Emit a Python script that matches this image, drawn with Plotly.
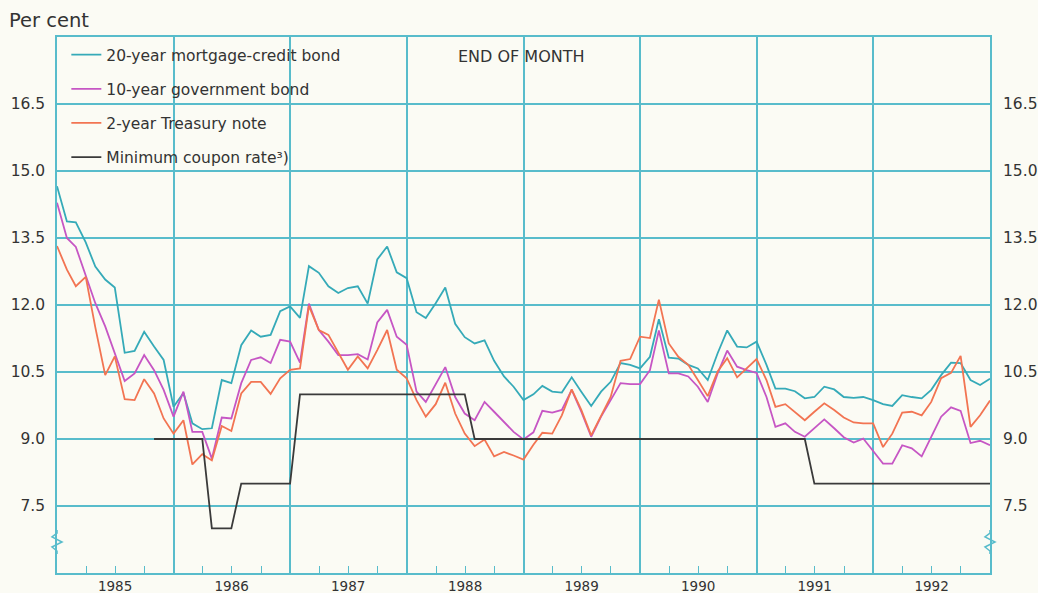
import plotly.graph_objects as go
import pandas as pd

# End-of-month observation dates, Dec 1984 .. Dec 1992
dates = pd.date_range("1984-12-31", periods=97, freq="ME").strftime("%Y-%m-%d").tolist()

mortgage_20y = [
    14.66, 13.87, 13.85, 13.40, 12.86, 12.57, 12.39, 10.93, 10.97, 11.40, 11.07, 10.77,
    9.72, 10.03, 9.35, 9.22, 9.24, 10.32, 10.25, 11.10, 11.43, 11.29, 11.33, 11.86,
    11.97, 11.71, 12.87, 12.72, 12.42, 12.27, 12.38, 12.42, 12.03, 13.02, 13.31, 12.73,
    12.60, 11.84, 11.71, 12.04, 12.39, 11.58, 11.28, 11.14, 11.21, 10.75, 10.40, 10.17,
    9.87, 10.00, 10.19, 10.06, 10.04, 10.38, 10.06, 9.74, 10.06, 10.28, 10.70, 10.66,
    10.58, 10.84, 11.68, 10.82, 10.80, 10.66, 10.58, 10.32, 10.92, 11.43, 11.07, 11.05,
    11.18, 10.66, 10.13, 10.13, 10.07, 9.91, 9.94, 10.17, 10.11, 9.94, 9.92, 9.94,
    9.87, 9.78, 9.74, 9.98, 9.94, 9.91, 10.10, 10.43, 10.71, 10.70, 10.32, 10.21,
    10.35,
]

govt_10y = [
    14.29, 13.50, 13.30, 12.64, 12.04, 11.52, 10.92, 10.30, 10.47, 10.88, 10.54, 10.10,
    9.50, 10.06, 9.16, 9.16, 8.56, 9.48, 9.46, 10.25, 10.77, 10.83, 10.70, 11.22,
    11.18, 10.71, 12.03, 11.44, 11.18, 10.88, 10.88, 10.90, 10.78, 11.61, 11.89, 11.29,
    11.11, 10.06, 9.83, 10.21, 10.61, 9.94, 9.57, 9.42, 9.83, 9.61, 9.38, 9.16,
    8.99, 9.15, 9.63, 9.59, 9.65, 10.10, 9.61, 9.05, 9.50, 9.87, 10.25, 10.23,
    10.23, 10.54, 11.43, 10.47, 10.47, 10.40, 10.17, 9.83, 10.47, 10.98, 10.62, 10.54,
    10.48, 9.94, 9.27, 9.35, 9.16, 9.05, 9.24, 9.44, 9.24, 9.04, 8.92, 9.01,
    8.73, 8.45, 8.45, 8.86, 8.79, 8.61, 9.05, 9.50, 9.71, 9.63, 8.91, 8.96,
    8.86,
]

treasury_2y = [
    13.32, 12.79, 12.42, 12.63, 11.50, 10.43, 10.85, 9.89, 9.87, 10.34, 10.02, 9.46,
    9.12, 9.42, 8.43, 8.66, 8.52, 9.29, 9.18, 10.02, 10.28, 10.28, 10.01, 10.36,
    10.55, 10.58, 11.98, 11.44, 11.33, 10.92, 10.55, 10.85, 10.58, 10.99, 11.44, 10.55,
    10.36, 9.87, 9.50, 9.78, 10.26, 9.57, 9.12, 8.84, 8.99, 8.61, 8.71, 8.63,
    8.54, 8.87, 9.14, 9.12, 9.53, 10.11, 9.65, 9.08, 9.50, 9.94, 10.75, 10.79,
    11.29, 11.26, 12.12, 11.14, 10.84, 10.66, 10.32, 9.96, 10.51, 10.81, 10.38, 10.58,
    10.79, 10.32, 9.72, 9.78, 9.61, 9.42, 9.61, 9.80, 9.65, 9.48, 9.37, 9.35,
    9.35, 8.82, 9.12, 9.59, 9.61, 9.53, 9.83, 10.36, 10.48, 10.86, 9.27, 9.53,
    9.86,
]

min_coupon = (
    [None] * 10 + [9.0] * 6 + [7.0] * 3 + [8.0] * 6 + [10.0] * 18 + [9.0] * 35 + [8.0] * 19
)

y_ticks = [7.5, 9.0, 10.5, 12.0, 13.5, 15.0, 16.5]
y_ticktext = ["7.5", "9.0", "10.5", "12.0", "13.5", "15.0", "16.5"]
years = ["1985", "1986", "1987", "1988", "1989", "1990", "1991", "1992"]
year_mid = [y + "-07-01" for y in years]
year_start = [y + "-01-01" for y in years[1:]]

GRID = "#58bccb"
TEXT = "#333333"
BG = "#fbfbf4"
FONT = "DejaVu Sans, Arial, sans-serif"
FS = 15.5

series = [
    ("20-year mortgage-credit bond", mortgage_20y, "#35aab8"),
    ("10-year government bond", govt_10y, "#c656c4"),
    ("2-year Treasury note", treasury_2y, "#f27452"),
    ("Minimum coupon rate³)", min_coupon, "#3a3a3a"),
]

fig = go.Figure()
for i, (name, vals, col) in enumerate(series):
    fig.add_trace(go.Scatter(
        x=dates, y=vals, name=name, mode="lines",
        line=dict(color=col, width=1.8),
        legendgroup=f"g{i}", connectgaps=False,
    ))

# helper trace so the overlay axes (year grid, right-hand labels) are drawn
fig.add_trace(go.Scatter(x=[dates[0]], y=[6], xaxis="x2", yaxis="y2",
                         mode="lines", showlegend=False, hoverinfo="skip",
                         line=dict(color="rgba(0,0,0,0)")))

xr = ["1984-12-31", "1992-12-31"]
fig.update_layout(
    template="none",
    width=1038, height=593,
    margin=dict(l=57, r=48, t=37, b=20, pad=0),
    paper_bgcolor=BG, plot_bgcolor=BG,
    font=dict(family=FONT, color=TEXT, size=FS),
    showlegend=True,
    legend=dict(
        x=0.01, y=0.998, xanchor="left", yanchor="top",
        bgcolor="rgba(0,0,0,0)", font=dict(size=FS, color=TEXT),
        tracegroupgap=11, itemwidth=30,
    ),
    xaxis=dict(
        type="date", range=xr, automargin=False,
        tickmode="array", tickvals=year_mid, ticktext=years,
        ticks="", showgrid=False, zeroline=False,
        showline=True, linecolor=GRID, linewidth=1.5, mirror=True,
        tickfont=dict(size=13.5, color=TEXT), ticklabelstandoff=0,
        minor=dict(tickmode="array",
                   tickvals=[f"{y}-{m:02d}-01" for y in years for m in (4, 7, 10)],
                   ticks="inside", ticklen=7, tickcolor=GRID, tickwidth=1.3,
                   showgrid=False),
    ),
    xaxis2=dict(
        type="date", range=xr, overlaying="x", side="bottom", automargin=False,
        tickmode="array", tickvals=year_start, showticklabels=False,
        ticks="", showgrid=True, gridcolor=GRID, gridwidth=1.5,
        showline=False, zeroline=False,
    ),
    yaxis=dict(
        range=[6, 18], tickmode="array", tickvals=y_ticks, ticktext=y_ticktext,
        showgrid=True, gridcolor=GRID, gridwidth=1.5, zeroline=False, automargin=False,
        showline=True, linecolor=GRID, linewidth=1.5, mirror=True,
        ticks="", ticklabelstandoff=7, tickfont=dict(size=FS, color=TEXT),
    ),
    yaxis2=dict(
        range=[6, 18], overlaying="y", side="right", tickmode="array", automargin=False,
        tickvals=y_ticks, ticktext=y_ticktext, showgrid=False, zeroline=False,
        ticks="", ticklabelstandoff=12, tickfont=dict(size=FS, color=TEXT),
    ),
    annotations=[
        dict(text="Per cent", xref="paper", yref="paper", x=-0.054, y=1.03,
             xanchor="left", yanchor="middle", showarrow=False,
             font=dict(size=19.5, color=TEXT)),
        dict(text="END OF MONTH", xref="paper", yref="paper", x=0.428, y=0.963,
             xanchor="left", yanchor="middle", showarrow=False,
             font=dict(size=16, color=TEXT)),
    ],
)

# axis-break zigzags on left and right axes
def zig(px):
    pts = [(0, 530), (0, 533), (-5, 537), (5, 542), (-5, 547), (0, 551), (0, 554)]
    path = ""
    for k, (dx, py) in enumerate(pts):
        xp = (px + dx - 57) / 933
        yp = (573 - py) / 536
        path += ("M" if k == 0 else "L") + f"{xp:.4f},{yp:.4f} "
    return path

for px in (57, 990):
    fig.add_shape(type="path", xref="paper", yref="paper", path=zig(px),
                  line=dict(color=GRID, width=1.5))

fig.write_html(
    "out.html",
    config={"displayModeBar": False},
    post_script="document.body.style.margin='0';document.body.style.padding='0';"
                "document.documentElement.style.overflow='hidden';",
)
